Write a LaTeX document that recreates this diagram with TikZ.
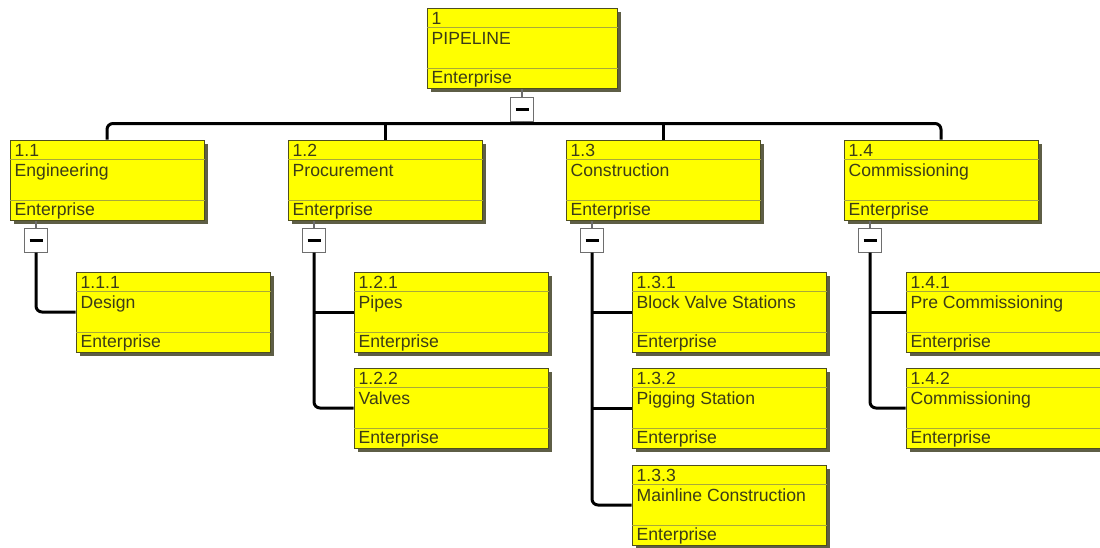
\documentclass[tikz,border=0pt]{standalone}
\usepackage{fontspec}
\setmainfont{Liberation Sans}
\usepackage{tikz}
\usetikzlibrary{positioning,shadows,calc}

\definecolor{wbsyellow}{HTML}{FFFF00}
\definecolor{wbsedge}{HTML}{4E4E1E}
\definecolor{rowcol}{HTML}{A9A93A}
\definecolor{shadowcol}{HTML}{5E5E46}
\definecolor{txtcol}{HTML}{3C3C18}
\definecolor{minusedge}{HTML}{6E6E6E}

% one work package: [options] name, centre, number, title
\newcommand{\wbsnode}[5][]{%
  \node[wbs, #1] (#2) at (#3) {};
  \draw[rowline] ([yshift=-20pt]#2.north west) -- ([yshift=-20pt]#2.north east);
  \draw[rowline] ([yshift=20pt]#2.south west) -- ([yshift=20pt]#2.south east);
  \node[wtxt] (#2-no) at ([xshift=5pt,yshift=-17pt]#2.north west) {#4};
  \node[wtxt] (#2-ti) at ([xshift=5pt,yshift=-37pt]#2.north west) {#5};
  \node[wtxt] (#2-en) at ([xshift=5pt,yshift=-76pt]#2.north west) {Enterprise};
}

\begin{document}
\begin{tikzpicture}[
      x=1pt, y=1pt,
      wbs/.style={draw=wbsedge, line width=1pt, fill=wbsyellow,
                  minimum width=194pt, minimum height=80pt, inner sep=0pt,
                  drop shadow={shadow xshift=4pt, shadow yshift=-4pt,
                               fill=shadowcol, opacity=1}},
      rowline/.style={draw=rowcol, line width=1pt},
      wtxt/.style={anchor=base west, inner sep=0pt, text=txtcol,
                   font=\fontsize{17.6}{20}\selectfont},
      minus/.style={draw=minusedge, line width=1pt, fill=white,
                    minimum width=23pt, minimum height=24pt, inner sep=0pt,
                    path picture={\draw[line width=3pt, black]
                      ([xshift=-6.5pt]path picture bounding box.center) --
                      ([xshift=6.5pt]path picture bounding box.center);}},
      stub/.style={draw=minusedge, line width=2pt},
      conn/.style={line width=3pt, black, rounded corners=6pt}
    ]
    \useasboundingbox (0,0) rectangle (1100,-547);

    % ---- level 1 ----
    \wbsnode[minimum width=190pt]{pipe}{522,-48}{1}{PIPELINE}
    \node[minus] (pipe-m) at (522,-109) {};

    % ---- level 2 ----
    \wbsnode{eng}{107,-180}{1.1}{Engineering}
    \wbsnode{proc}{385,-180}{1.2}{Procurement}
    \wbsnode{cons}{663,-180}{1.3}{Construction}
    \wbsnode{comm}{941,-180}{1.4}{Commissioning}
    \node[minus] (eng-m) at (36,-240) {};
    \node[minus] (proc-m) at (314,-240) {};
    \node[minus] (cons-m) at (592,-240) {};
    \node[minus] (comm-m) at (870,-240) {};

    % ---- level 3 ----
    \wbsnode{design}{173,-312}{1.1.1}{Design}
    \wbsnode{pipes}{451,-312}{1.2.1}{Pipes}
    \wbsnode{valves}{451,-408}{1.2.2}{Valves}
    \wbsnode{bvs}{729,-312}{1.3.1}{Block Valve Stations}
    \wbsnode{pig}{729,-408}{1.3.2}{Pigging Station}
    \wbsnode{main}{729,-505}{1.3.3}{Mainline Construction}
    \wbsnode{precomm}{1003,-312}{1.4.1}{Pre Commissioning}
    \wbsnode{commiss}{1003,-408}{1.4.2}{Commissioning}

    % ---- connectors ----
    \coordinate (bar) at ([yshift=16pt]eng.north);
    \draw[stub] (pipe-m.north) -- (pipe-m.north |- pipe.south);
    \draw[conn] (pipe-m.south) -- (pipe-m.south |- bar);
    \draw[conn] (eng.north) -- (bar) -| (comm.north);
    \draw[conn] (proc.north) -- (proc.north |- bar);
    \draw[conn] (cons.north) -- (cons.north |- bar);

    \draw[stub] (eng-m.north) -- (eng-m.north |- eng.south);
    \draw[stub] (proc-m.north) -- (proc-m.north |- proc.south);
    \draw[stub] (cons-m.north) -- (cons-m.north |- cons.south);
    \draw[stub] (comm-m.north) -- (comm-m.north |- comm.south);

    \draw[conn] (eng-m.south) |- (design.west);
    \draw[conn] (proc-m.south) |- (valves.west);
    \draw[conn] (pipes.west) -- (pipes.west -| proc-m.south);
    \draw[conn] (cons-m.south) |- (main.west);
    \draw[conn] (bvs.west) -- (bvs.west -| cons-m.south);
    \draw[conn] (pig.west) -- (pig.west -| cons-m.south);
    \draw[conn] (comm-m.south) |- (commiss.west);
    \draw[conn] (precomm.west) -- (precomm.west -| comm-m.south);
  \end{tikzpicture}
\end{document}
